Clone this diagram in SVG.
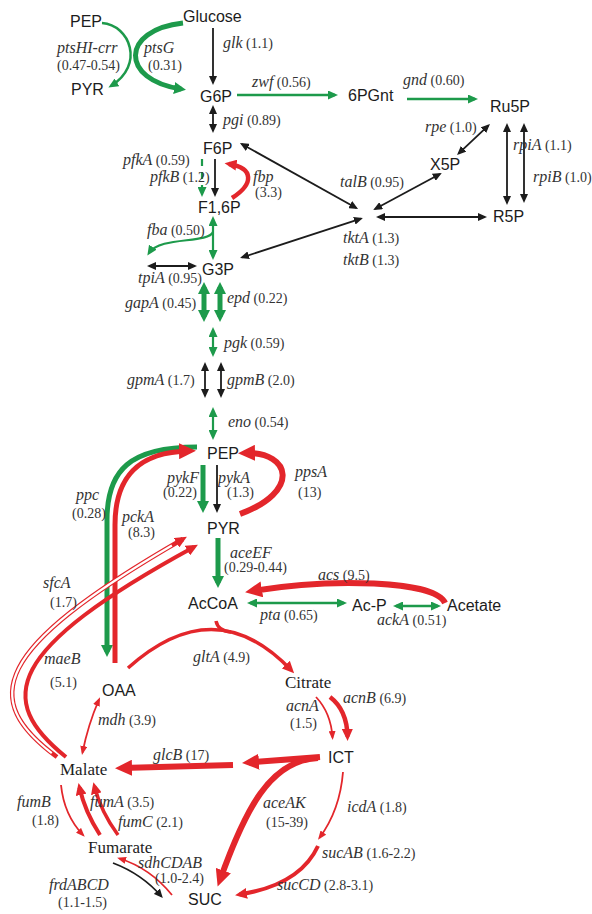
<svg xmlns="http://www.w3.org/2000/svg" width="592" height="914" viewBox="0 0 592 914">
<style>
.n{font-family:"Liberation Sans",Arial,sans-serif;font-size:16px;fill:#1c1c1c}
.s{font-family:"Liberation Serif","Times New Roman",serif;font-size:17px;fill:#1c1c1c}
.l{font-family:"Liberation Serif","Times New Roman",serif;font-size:14px;fill:#333}
.g{font-style:italic;font-size:16px}
.c{fill:none;stroke-linecap:butt}
.k{stroke:#1c1c1c;stroke-width:1.8}
.gt{stroke:#1d9a4b;stroke-width:2.5}
.gT{stroke:#1d9a4b;stroke-width:5}
.rt{stroke:#e3262b;stroke-width:1.8}
.rm{stroke:#e3262b;stroke-width:4}
.rT{stroke:#e3262b;stroke-width:6}
</style>
<defs>
<marker id="mk" markerUnits="userSpaceOnUse" markerWidth="10" markerHeight="8" refX="7" refY="4" orient="auto-start-reverse"><path d="M0,0 L9,4 L0,8 z" fill="#1c1c1c"/></marker>
<marker id="mg1" markerUnits="userSpaceOnUse" markerWidth="11" markerHeight="9" refX="7" refY="4.5" orient="auto-start-reverse"><path d="M0,0 L10,4.5 L0,9 z" fill="#1d9a4b"/></marker>
<marker id="mg2" markerUnits="userSpaceOnUse" markerWidth="13" markerHeight="12" refX="7" refY="6" orient="auto-start-reverse"><path d="M0,0 L12,6 L0,12 z" fill="#1d9a4b"/></marker>
<marker id="mr1" markerUnits="userSpaceOnUse" markerWidth="10" markerHeight="7" refX="6.5" refY="3.5" orient="auto-start-reverse"><path d="M0,0 L9,3.5 L0,7 z" fill="#e3262b"/></marker>
<marker id="mr2" markerUnits="userSpaceOnUse" markerWidth="13" markerHeight="11" refX="7.5" refY="5.5" orient="auto-start-reverse"><path d="M0,0 L12,5.5 L0,11 z" fill="#e3262b"/></marker>
<marker id="mr3" markerUnits="userSpaceOnUse" markerWidth="18" markerHeight="16" refX="10" refY="8" orient="auto-start-reverse"><path d="M0,0 L17,8 L0,16 z" fill="#e3262b"/></marker>
</defs>
<rect width="592" height="914" fill="#fff"/>
<g id="connectors">
<path class="c gt" d="M102,23 C130,25 145,65 111,86" marker-end="url(#mg1)"/>
<path class="c gT" d="M183,23 C120,30 120,80 181,89" marker-end="url(#mg2)"/>
<path class="c k" d="M213,28 L213,83" marker-end="url(#mk)"/>
<path class="c gt" d="M237,95 L335,95" marker-end="url(#mg1)"/>
<path class="c gt" d="M407,99 L475,99" marker-end="url(#mg1)"/>
<path class="c k" d="M213,107 L213,131" marker-start="url(#mk)" marker-end="url(#mk)"/>
<path class="c k" d="M215,159 L215,195" marker-end="url(#mk)"/>
<path class="c gt" d="M202,159 L202,194" stroke-dasharray="7 6" style="stroke-width:2.2" marker-end="url(#mg1)"/>
<path class="c rm" d="M232,198 C254,184 254,168 229,164" style="stroke-width:4.5" marker-end="url(#mr2)"/>
<path class="c gt" d="M213,219 L213,257" style="stroke-width:2.2" marker-start="url(#mg1)" marker-end="url(#mg1)"/>
<path class="c gt" d="M213,232 C208,244 160,236 149,253" style="stroke-width:2.2" marker-end="url(#mg1)"/>
<path class="c k" d="M149,266 L195,266" marker-start="url(#mk)" marker-end="url(#mk)"/>
<path class="c k" d="M241.7,144 L356.3,208" marker-start="url(#mk)" marker-end="url(#mk)"/>
<path class="c k" d="M375,209 L440,174" marker-start="url(#mk)" marker-end="url(#mk)"/>
<path class="c k" d="M378,217 L485,217" marker-start="url(#mk)" marker-end="url(#mk)"/>
<path class="c k" d="M242,257.4 L361,218.6" marker-start="url(#mk)" marker-end="url(#mk)"/>
<path class="c k" d="M488.5,125.4 L458.5,153.6" marker-start="url(#mk)" marker-end="url(#mk)"/>
<path class="c k" d="M507,125 L507,203" marker-start="url(#mk)" marker-end="url(#mk)"/>
<path class="c k" d="M524,125 L524,201" marker-start="url(#mk)" marker-end="url(#mk)"/>
<path class="c gT" d="M204,287 L204,317" marker-start="url(#mg2)" marker-end="url(#mg2)"/>
<path class="c gT" d="M220,287 L220,317" marker-start="url(#mg2)" marker-end="url(#mg2)"/>
<path class="c gt" d="M213,330 L213,354" style="stroke-width:2.2" marker-start="url(#mg1)" marker-end="url(#mg1)"/>
<path class="c k" d="M205,364 L205,396" marker-start="url(#mk)" marker-end="url(#mk)"/>
<path class="c k" d="M221,364 L221,396" marker-start="url(#mk)" marker-end="url(#mk)"/>
<path class="c gt" d="M213,410 L213,437" style="stroke-width:2.2" marker-start="url(#mg1)" marker-end="url(#mg1)"/>
<path class="c gT" d="M203,465 L203,508" marker-end="url(#mg2)"/>
<path class="c k" d="M217,465 L217,511" marker-end="url(#mk)"/>
<path class="c rT" d="M240,514 C300,492 292,452 245,453" marker-end="url(#mr3)"/>
<path class="c gT" d="M218,538 L218,583" marker-end="url(#mg2)"/>
<path class="c gT" d="M197,447 C130,447 107,470 107,520 L107,652" marker-end="url(#mg2)"/>
<path class="c rT" d="M115,663 L115,525 C115,475 140,452 189,451" style="stroke-width:5" marker-end="url(#mr3)"/>
<path class="c rm" d="M57,757 C-20,700 -10,650 183,539" style="stroke-width:4.5" marker-end="url(#mr2)"/>
<path class="c" d="M57,757 C-20,700 -10,650 183,539" stroke="#fff" stroke-width="2.2" pathLength="100" stroke-dasharray="0 2 94 10"/>
<path class="c rm" d="M66,757 C-5,700 5,650 194,547" marker-end="url(#mr2)"/>
<path class="c rm" d="M128,668 Q215,590 291,670" style="stroke-width:3.5" marker-end="url(#mr2)"/>
<path class="c rm" d="M216,621 Q218,631 231,632" style="stroke-width:3.5"/>
<path class="c rT" d="M445,603 C435,580 330,578 252,591" marker-end="url(#mr3)"/>
<path class="c gt" d="M250,603 L344,603" marker-start="url(#mg1)" marker-end="url(#mg1)"/>
<path class="c gt" d="M396,606 L438,606" marker-start="url(#mg1)" marker-end="url(#mg1)"/>
<path class="c rt" d="M316,697 Q331,713 332.5,737.5" marker-end="url(#mr1)"/>
<path class="c rm" d="M330,697 Q347,710 347.5,736.5" style="stroke-width:4.5" marker-end="url(#mr2)"/>
<path class="c rT" d="M320,757 L249,762.5" marker-end="url(#mr3)"/>
<path class="c rT" d="M233,765 L122,768" marker-end="url(#mr3)"/>
<path class="c rT" d="M318,758 C270,760 245,810 220,880" marker-end="url(#mr3)"/>
<path class="c rt" d="M343,772 Q340,810 319.5,837.8" marker-end="url(#mr1)"/>
<path class="c rm" d="M318,846 Q300,885 239.5,894.5" marker-end="url(#mr2)"/>
<path class="c rt" d="M99,699.5 Q88,725 82.5,752.5" marker-start="url(#mr1)" marker-end="url(#mr1)"/>
<path class="c rt" d="M61,785 Q64,815 83,835" marker-end="url(#mr1)"/>
<path class="c rm" d="M100,835 Q85,812 79.5,787.5" marker-end="url(#mr2)"/>
<path class="c rm" d="M118,835 Q101,812 94.5,786.5" style="stroke-width:3.5" marker-end="url(#mr2)"/>
<path class="c rt" d="M172,895 Q150,868 119.5,858.5" marker-end="url(#mr1)"/>
<path class="c k" d="M113,863 Q142,874 161.5,896.5" marker-end="url(#mk)"/>
</g>
<g id="nodes">
<g id="n-pep-top"><text class="n" x="70" y="27">PEP</text></g>
<g id="n-glucose"><text class="n" x="183" y="22">Glucose</text></g>
<g id="n-pyr-top"><text class="n" x="71" y="95">PYR</text></g>
<g id="n-g6p"><text class="n" x="200" y="102">G6P</text></g>
<g id="n-6pgnt"><text class="n" x="348" y="101">6PGnt</text></g>
<g id="n-ru5p"><text class="n" x="490" y="112">Ru5P</text></g>
<g id="n-f6p"><text class="n" x="203" y="154">F6P</text></g>
<g id="n-x5p"><text class="n" x="430" y="170">X5P</text></g>
<g id="n-f16p"><text class="n" x="198" y="213">F1,6P</text></g>
<g id="n-r5p"><text class="n" x="493" y="222">R5P</text></g>
<g id="n-g3p"><text class="n" x="202" y="275">G3P</text></g>
<g id="n-pep"><text class="n" x="207" y="459">PEP</text></g>
<g id="n-pyr"><text class="n" x="207" y="534">PYR</text></g>
<g id="n-accoa"><text class="n" x="188" y="609">AcCoA</text></g>
<g id="n-acp"><text class="n" x="352" y="611">Ac-P</text></g>
<g id="n-acetate"><text class="n" x="447" y="611">Acetate</text></g>
<g id="n-oaa"><text class="n" x="102" y="696">OAA</text></g>
<g id="n-citrate"><text class="s" x="285" y="688">Citrate</text></g>
<g id="n-ict"><text class="n" x="328" y="763">ICT</text></g>
<g id="n-malate"><text class="s" x="60" y="775">Malate</text></g>
<g id="n-fumarate"><text class="s" x="88" y="853">Fumarate</text></g>
<g id="n-suc"><text class="n" x="188" y="905">SUC</text></g>
</g>
<g id="labels">
<text class="l" x="57" y="53"><tspan class="g">ptsHI-crr</tspan></text>
<text class="l" x="57" y="70">(0.47-0.54)</text>
<text class="l" x="144" y="53"><tspan class="g">ptsG</tspan></text>
<text class="l" x="148" y="70">(0.31)</text>
<text class="l" x="223" y="48"><tspan class="g">glk</tspan> (1.1)</text>
<text class="l" x="252" y="87"><tspan class="g">zwf</tspan> (0.56)</text>
<text class="l" x="403" y="85"><tspan class="g">gnd</tspan> (0.60)</text>
<text class="l" x="223" y="125"><tspan class="g">pgi</tspan> (0.89)</text>
<text class="l" x="123" y="165"><tspan class="g">pfkA</tspan>  (0.59)</text>
<text class="l" x="150" y="182"><tspan class="g">pfkB</tspan> (1.2)</text>
<text class="l" x="253" y="182"><tspan class="g">fbp</tspan></text>
<text class="l" x="255" y="197">(3.3)</text>
<text class="l" x="425" y="132"><tspan class="g">rpe</tspan> (1.0)</text>
<text class="l" x="513" y="150"><tspan class="g">rpiA</tspan> (1.1)</text>
<text class="l" x="533" y="182"><tspan class="g">rpiB</tspan> (1.0)</text>
<text class="l" x="340" y="187"><tspan class="g">talB</tspan> (0.95)</text>
<text class="l" x="343" y="243"><tspan class="g">tktA</tspan> (1.3)</text>
<text class="l" x="343" y="265"><tspan class="g">tktB</tspan> (1.3)</text>
<text class="l" x="147" y="235"><tspan class="g">fba</tspan> (0.50)</text>
<text class="l" x="138" y="283"><tspan class="g">tpiA</tspan> (0.95)</text>
<text class="l" x="125" y="308"><tspan class="g">gapA</tspan> (0.45)</text>
<text class="l" x="227" y="303"><tspan class="g">epd</tspan> (0.22)</text>
<text class="l" x="224" y="348"><tspan class="g">pgk</tspan> (0.59)</text>
<text class="l" x="127" y="385"><tspan class="g">gpmA</tspan> (1.7)</text>
<text class="l" x="227" y="385"><tspan class="g">gpmB</tspan> (2.0)</text>
<text class="l" x="228" y="427"><tspan class="g">eno</tspan> (0.54)</text>
<text class="l" x="76" y="500"><tspan class="g">ppc</tspan></text>
<text class="l" x="72" y="518">(0.28)</text>
<text class="l" x="122" y="522"><tspan class="g">pckA</tspan></text>
<text class="l" x="128" y="537">(8.3)</text>
<text class="l" x="167" y="483"><tspan class="g">pykF</tspan></text>
<text class="l" x="163" y="497">(0.22)</text>
<text class="l" x="218" y="483"><tspan class="g">pykA</tspan></text>
<text class="l" x="227" y="497">(1.3)</text>
<text class="l" x="295" y="477"><tspan class="g">ppsA</tspan></text>
<text class="l" x="298" y="497">(13)</text>
<text class="l" x="230" y="558"><tspan class="g">aceEF</tspan></text>
<text class="l" x="224" y="572">(0.29-0.44)</text>
<text class="l" x="43" y="588"><tspan class="g">sfcA</tspan></text>
<text class="l" x="50" y="607">(1.7)</text>
<text class="l" x="44" y="664"><tspan class="g">maeB</tspan></text>
<text class="l" x="50" y="687">(5.1)</text>
<text class="l" x="318" y="580"><tspan class="g">acs</tspan>  (9.5)</text>
<text class="l" x="260" y="620"><tspan class="g">pta</tspan> (0.65)</text>
<text class="l" x="377" y="625"><tspan class="g">ackA</tspan> (0.51)</text>
<text class="l" x="193" y="662"><tspan class="g">gltA</tspan>  (4.9)</text>
<text class="l" x="286" y="711"><tspan class="g">acnA</tspan></text>
<text class="l" x="290" y="728">(1.5)</text>
<text class="l" x="343" y="703"><tspan class="g">acnB</tspan> (6.9)</text>
<text class="l" x="98" y="725"><tspan class="g">mdh</tspan>  (3.9)</text>
<text class="l" x="153" y="760"><tspan class="g">glcB</tspan> (17)</text>
<text class="l" x="347" y="812"><tspan class="g">icdA</tspan>  (1.8)</text>
<text class="l" x="322" y="858"><tspan class="g">sucAB</tspan>  (1.6-2.2)</text>
<text class="l" x="277" y="890"><tspan class="g">sucCD</tspan> (2.8-3.1)</text>
<text class="l" x="263" y="808"><tspan class="g">aceAK</tspan></text>
<text class="l" x="266" y="827">(15-39)</text>
<text class="l" x="17" y="807"><tspan class="g">fumB</tspan></text>
<text class="l" x="32" y="825">(1.8)</text>
<text class="l" x="90" y="807"><tspan class="g">fumA</tspan>  (3.5)</text>
<text class="l" x="118" y="827"><tspan class="g">fumC</tspan>  (2.1)</text>
<text class="l" x="138" y="868"><tspan class="g">sdhCDAB</tspan></text>
<text class="l" x="155" y="883">(1.0-2.4)</text>
<text class="l" x="49" y="890"><tspan class="g">frdABCD</tspan></text>
<text class="l" x="58" y="907">(1.1-1.5)</text>
</g>
</svg>
